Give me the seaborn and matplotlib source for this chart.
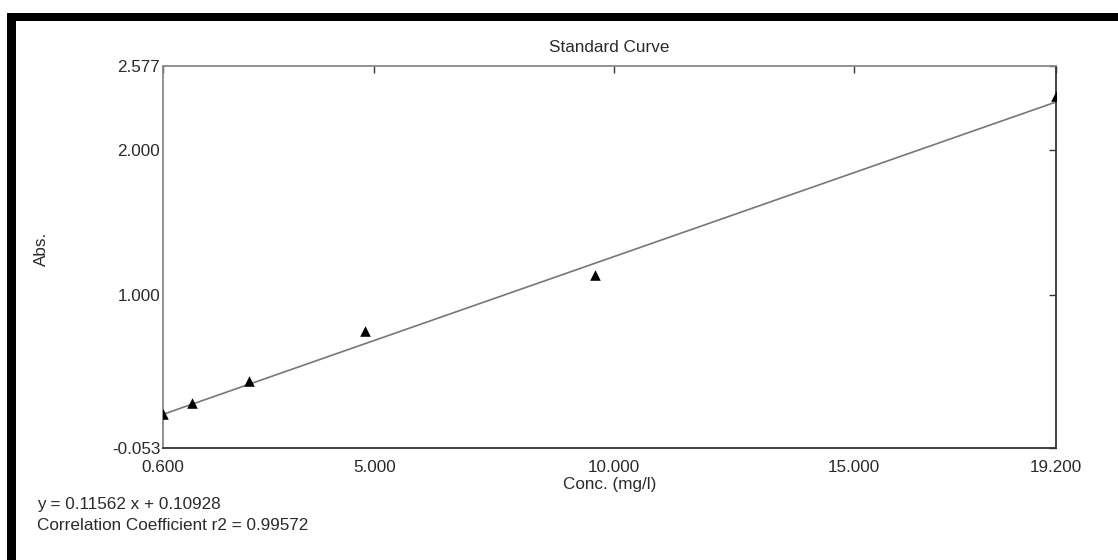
import matplotlib
matplotlib.use("Agg")
import matplotlib.pyplot as plt
import numpy as np
import pandas as pd
import seaborn as sns
from matplotlib.patches import Rectangle

# standard points
conc = [0.6, 1.2, 2.4, 4.8, 9.6, 19.2]
absorbance = [0.18, 0.26, 0.41, 0.75, 1.14, 2.37]

# fit reported by the instrument
slope = 0.11562
intercept = 0.10928
r2 = 0.99572

x_ticks = [0.6, 5.0, 10.0, 15.0, 19.2]
y_ticks = [-0.053, 1.0, 2.0, 2.577]

sns.set_style("white")
plt.rcParams['font.family'] = ['Liberation Sans', 'DejaVu Sans']

W, H = 1118, 560
FS = 12.3
fig = plt.figure(figsize=(W / 100, H / 100), dpi=100)
ax = fig.add_axes([163 / W, 1 - 448 / H, (1056 - 163) / W, (448 - 66) / H])

points_df = pd.DataFrame({'Conc': conc, 'Abs': absorbance})
fit_x = np.array([conc[0], conc[-1]])
fit_df = pd.DataFrame({'Conc': fit_x, 'Abs': slope * fit_x + intercept})

sns.lineplot(data=fit_df, x='Conc', y='Abs', color='#777777', linewidth=1.2, ax=ax)
sns.scatterplot(data=points_df, x='Conc', y='Abs', marker='^', color='black',
                s=58, edgecolor='black', linewidth=0, ax=ax, zorder=3)

ax.set_xlim(0.6, 19.2)
ax.set_ylim(-0.053, 2.577)
ax.set_xticks(x_ticks)
ax.set_xticklabels([f"{v:.3f}" for v in x_ticks])
ax.set_yticks(y_ticks)
ax.set_yticklabels([f"{v:.3f}" for v in y_ticks])

ax.tick_params(axis='both', direction='in', length=5, width=1, colors='#333333',
               top=True, right=True, labeltop=False, labelright=False,
               labelsize=FS, labelcolor='#2a2a2a')
ax.tick_params(axis='x', pad=9)
ax.tick_params(axis='y', pad=2)

ax.spines['top'].set_color('#888888')
ax.spines['left'].set_color('#888888')
ax.spines['bottom'].set_color('#333333')
ax.spines['right'].set_color('#333333')
for s in ax.spines.values():
    s.set_linewidth(1.3)

ax.set_title('Standard Curve', fontsize=FS, color='#2a2a2a', pad=10)
ax.set_xlabel('Conc. (mg/l)', fontsize=FS, color='#2a2a2a', labelpad=1)
ax.set_ylabel('Abs.', fontsize=FS, color='#2a2a2a')
ax.yaxis.set_label_coords(-0.128, 0.52)

fig.text(37 / W, 1 - 505 / H, f"y = {slope:.5f} x + {intercept:.5f}",
         fontsize=FS, color='#2a2a2a', va='center', ha='left')
fig.text(37 / W, 1 - 526 / H, f"Correlation Coefficient r2 = {r2:.5f}",
         fontsize=FS, color='#2a2a2a', va='center', ha='left')

# thick black frame (left and top edges visible)
fig.add_artist(Rectangle((7 / W, 0), 9 / W, 1 - 13 / H, transform=fig.transFigure,
                         color='black', lw=0))
fig.add_artist(Rectangle((7 / W, 1 - 21 / H), 1, 8 / H, transform=fig.transFigure,
                         color='black', lw=0))

fig.savefig('out.png', dpi=100, facecolor='white')
